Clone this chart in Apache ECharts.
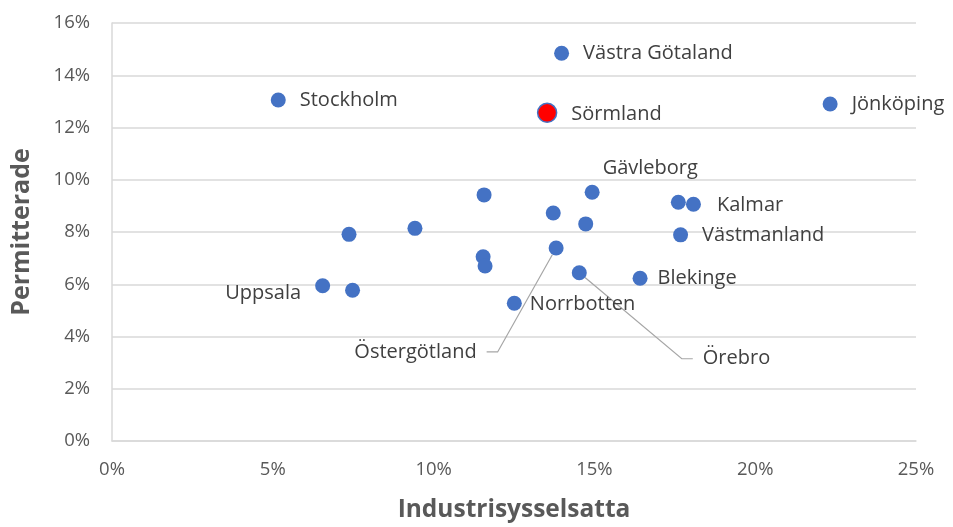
<!DOCTYPE html>
<html><head><meta charset="utf-8">
<script src="https://cdn.jsdelivr.net/npm/echarts@6/dist/echarts.min.js"></script>
<style>html,body{margin:0;padding:0;background:#fff}#c{width:953px;height:527px}</style>
</head><body><div id="c"></div>
<script>
// Data (percent)
const labels = ['Stockholm','Västra Götaland','Sörmland','Jönköping','Gävleborg','Kalmar','','Västmanland','','','','','','Östergötland','','','Örebro','Blekinge','Uppsala','','Norrbotten'];
const industrisysselsatta = [5.17,13.98,13.53,22.33,14.93,18.08,17.61,17.68,11.57,13.72,14.73,9.42,7.37,13.81,11.54,11.60,14.53,16.42,6.55,7.48,12.51];
const permitterade = [13.05,14.84,12.56,12.90,9.52,9.06,9.14,7.89,9.42,8.73,8.31,8.14,7.91,7.39,7.05,6.70,6.44,6.23,5.94,5.77,5.27];
const xTicks = [0,5,10,15,20,25];
const yTicks = [0,2,4,6,8,10,12,14,16];
const highlighted = 'Sörmland';

// Label placement styles (offsets in px)
const labelShift = {
  'Stockholm':[0,0], 'Västra Götaland':[0,0], 'Sörmland':[0,1], 'Jönköping':[0,0],
  'Gävleborg':[-11,-24], 'Kalmar':[2,1], 'Västmanland':[0,0], 'Blekinge':[-4,0],
  'Norrbotten':[-6,1], 'Uppsala':[0,7], 'Östergötland':[-48,104], 'Örebro':[92,86]
};
const leftLabels = ['Uppsala','Östergötland'];
const leaderLabels = ['Östergötland','Örebro'];

const FONT = "'Open Sans', 'Noto Sans', sans-serif";
const BLUE = '#4472C4';

const data = labels.map((name, i) => {
  const item = { name: name, value: [industrisysselsatta[i], permitterade[i]] };
  const lab = { show: name !== '' };
  if (leftLabels.includes(name)) lab.position = 'left';
  if (leaderLabels.includes(name)) {
    lab.padding = [0, 10, 0, 10];
    lab.backgroundColor = 'rgba(255,255,255,0)';
    item.labelLine = { show: true };
  }
  item.label = lab;
  if (name === highlighted) {
    item.symbolSize = 19;
    item.itemStyle = { color: '#FF0000', borderColor: BLUE, borderWidth: 1.5 };
  }
  return item;
});

const chart = echarts.init(document.getElementById('c'), null, { renderer: 'canvas' });
chart.setOption({
  animation: false,
  backgroundColor: '#ffffff',
  grid: { left: 112, right: 37, top: 23, bottom: 86, containLabel: false, outerBoundsMode: 'none' },
  xAxis: {
    type: 'value', min: xTicks[0], max: xTicks[xTicks.length-1], interval: 5,
    name: 'Industrisysselsatta', nameLocation: 'middle', nameGap: 57,
    nameTextStyle: { fontFamily: FONT, fontWeight: 'bold', fontSize: 24.5, color: '#595959' },
    axisLine: { show: true, lineStyle: { color: '#d9d9d9', width: 1.5 } },
    axisTick: { show: false },
    splitLine: { show: false },
    axisLabel: { formatter: '{value}%', fontFamily: FONT, fontSize: 18.5, color: '#595959', margin: 19 }
  },
  yAxis: {
    type: 'value', min: yTicks[0], max: yTicks[yTicks.length-1], interval: 2,
    name: 'Permitterade', nameLocation: 'middle', nameGap: 78, nameRotate: 90,
    nameTextStyle: { fontFamily: FONT, fontWeight: 'bold', fontSize: 25, color: '#595959' },
    axisLine: { show: true, lineStyle: { color: '#d9d9d9', width: 1.5 } },
    axisTick: { show: false },
    splitLine: { show: true, lineStyle: { color: '#d9d9d9', width: 1.5 } },
    axisLabel: { formatter: '{value}%', fontFamily: FONT, fontSize: 18.5, color: '#595959', margin: 22 }
  },
  series: [{
    type: 'scatter',
    symbol: 'circle',
    symbolSize: 15,
    itemStyle: { color: BLUE, opacity: 1 },
    label: {
      show: true, position: 'right', distance: 14,
      formatter: '{b}', fontFamily: FONT, fontSize: 20, color: '#404040'
    },
    labelLine: { show: false, length2: 11, minTurnAngle: 0, lineStyle: { color: '#a6a6a6', width: 1.2 } },
    labelLayout: function (p) {
      const s = labelShift[p.text] || [0, 0];
      return { dx: s[0], dy: s[1] };
    },
    emphasis: { disabled: true },
    data: data
  }]
});
</script></body></html>
